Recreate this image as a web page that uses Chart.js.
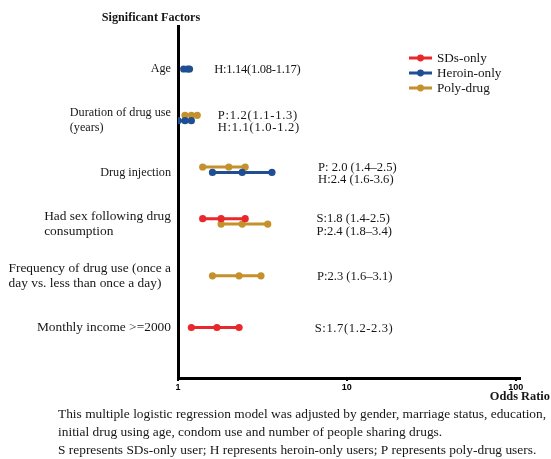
<!DOCTYPE html>
<html>
<head>
<meta charset="utf-8">
<script src="https://cdn.jsdelivr.net/npm/chart.js@4"></script>
<style>
  html, body { margin: 0; padding: 0; background: #fff; }
  #wrap { width: 551px; height: 459px; position: relative; }
</style>
</head>
<body>
<div id="wrap"><canvas id="c" width="551" height="459"></canvas></div>
<script>
// Significant factors (one entry per row, lines of the label)
const factors = [
  ['Age'],
  ['Duration of drug use', '(years)'],
  ['Drug injection'],
  ['Had sex following drug', 'consumption'],
  ['Frequency of drug use (once a', 'day vs. less than once a day)'],
  ['Monthly income >=2000']
];

const seriesNames = ['SDs-only', 'Heroin-only', 'Poly-drug'];
const seriesCodes = ['S', 'H', 'P'];

// Odds ratios with 95% confidence limits; null where the factor is not significant
const sdsOR      = [null, null, null, 1.8, null, 1.7];
const sdsLow     = [null, null, null, 1.4, null, 1.2];
const sdsHigh    = [null, null, null, 2.5, null, 2.3];

const heroinOR   = [1.14, 1.1, 2.4, null, null, null];
const heroinLow  = [1.08, 1.0, 1.6, null, null, null];
const heroinHigh = [1.17, 1.2, 3.6, null, null, null];

const polyOR     = [null, 1.2, 2.0, 2.4, 2.3, null];
const polyLow    = [null, 1.1, 1.4, 1.8, 1.6, null];
const polyHigh   = [null, 1.3, 2.5, 3.4, 3.1, null];

const xTicks = [1, 10, 100];
const yAxisTitle = 'Significant Factors';
const xAxisTitle = 'Odds Ratio';

// Top-to-bottom order of the groups inside each row
const rowOrder = [['H'], ['P', 'H'], ['P', 'H'], ['S', 'P'], ['P'], ['S']];
// Estimate text pattern per row and group, and the number of decimals per row
const estimateText = {
  '0H': 'H:{m}({l}-{u})',
  '1P': 'P:{m}({l}-{u})',  '1H': 'H:{m}({l}-{u})',
  '2P': 'P: {m} ({l}\u2013{u})', '2H': 'H:{m} ({l}-{u})',
  '3S': 'S:{m} ({l}-{u})',  '3P': 'P:{m} ({l}\u2013{u})',
  '4P': 'P:{m} ({l}\u2013{u})',
  '5S': 'S:{m}({l}-{u})'
};
const decimals = [2, 1, 1, 1, 1, 1];

const footnote = [
  'This multiple logistic regression model was adjusted by gender, marriage status, education,',
  'initial drug using age, condom use and number of people sharing drugs.',
  'S represents SDs-only user; H represents heroin-only users; P represents poly-drug users.'
];

// ---- styling ----
const colors = { S: '#e8282b', H: '#1f4f92', P: '#c5912c' };
const labelSizes = [12.2, 12.2, 12.2, 13.4, 13.4, 13.4];
const textAnchorOR = [1.64, 1.72, 6.75, 6.6, 6.65, 6.45];   // where each estimate text starts on the OR axis
const textTracking = [-0.3, 0.7, 0, 0, 0, 0.6];             // letter spacing of the estimate texts per row
const laneShift = -0.105;   // upper CI line of a pair sits slightly above the row
const textStep = 0.24;      // spacing of stacked estimate texts, in row units
const SERIF = '"Liberation Serif", "Times New Roman", serif';

const sources = {
  S: { or: sdsOR, lo: sdsLow, hi: sdsHigh },
  H: { or: heroinOR, lo: heroinLow, hi: heroinHigh },
  P: { or: polyOR, lo: polyLow, hi: polyHigh }
};

function rowY(row, code) {
  const order = rowOrder[row];
  return (order.length > 1 && order[0] === code) ? row + laneShift : row;
}

const datasets = seriesCodes.map((code, si) => {
  const src = sources[code];
  const pts = [];
  src.or.forEach((m, row) => {
    if (m === null) return;
    const yv = rowY(row, code);
    pts.push({ x: src.lo[row], y: yv }, { x: m, y: yv }, { x: src.hi[row], y: yv });
    pts.push({ x: m, y: null });   // break between rows
  });
  return {
    label: seriesNames[si],
    code: code,
    data: pts,
    borderColor: colors[code],
    backgroundColor: colors[code],
    pointBackgroundColor: colors[code],
    pointBorderWidth: 0,
    pointRadius: 3.6,
    borderWidth: 3,
    spanGaps: false,
    tension: 0
  };
});

function fmt(row, code) {
  const src = sources[code], d = decimals[row];
  return estimateText[row + code]
    .replace('{m}', src.or[row].toFixed(d))
    .replace('{l}', src.lo[row].toFixed(d))
    .replace('{u}', src.hi[row].toFixed(d));
}

const textLayer = {
  id: 'textLayer',
  afterDraw(chart) {
    const { ctx, chartArea, scales } = chart;
    const xs = scales.x, ys = scales.y;
    ctx.save();
    ctx.fillStyle = '#161616';
    ctx.textBaseline = 'middle';

    // vertical axis heading
    ctx.font = 'bold 12.2px ' + SERIF;
    ctx.textAlign = 'center';
    ctx.fillText(yAxisTitle, 151, 18);

    // factor labels: block right-aligned to the axis, lines left-aligned
    factors.forEach((lines, i) => {
      ctx.font = labelSizes[i] + 'px ' + SERIF;
      const w = Math.max(...lines.map(l => ctx.measureText(l).width));
      const left = chartArea.left - 7 - w;
      const cy = ys.getPixelForValue(i);
      const lh = 15;
      ctx.textAlign = 'left';
      lines.forEach((l, k) => {
        ctx.fillText(l, left, cy + (k - (lines.length - 1) / 2) * lh);
      });
    });

    // estimate texts
    ctx.font = '12.6px ' + SERIF;
    ctx.textAlign = 'left';
    rowOrder.forEach((order, row) => {
      const px = xs.getPixelForValue(textAnchorOR[row]);
      ctx.letterSpacing = textTracking[row] + 'px';
      order.forEach((code, k) => {
        const yv = row + 0.02 + (k - (order.length - 1) / 2) * textStep;
        ctx.fillText(fmt(row, code), px, ys.getPixelForValue(yv));
      });
    });
    ctx.letterSpacing = '0px';

    // legend
    ctx.font = '13.2px ' + SERIF;
    chart.data.datasets.forEach((ds, i) => {
      const ly = 58 + i * 15;
      ctx.strokeStyle = ds.borderColor;
      ctx.lineWidth = 3;
      ctx.beginPath(); ctx.moveTo(409, ly); ctx.lineTo(432, ly); ctx.stroke();
      ctx.fillStyle = ds.borderColor;
      ctx.beginPath(); ctx.arc(420.5, ly, 3.4, 0, Math.PI * 2); ctx.fill();
      ctx.fillStyle = '#161616';
      ctx.textAlign = 'left';
      ctx.fillText(ds.label, 437, ly + 0.5);
    });

    // horizontal axis title
    ctx.font = 'bold 12.4px ' + SERIF;
    ctx.textAlign = 'right';
    ctx.fillText(xAxisTitle, 550, 397);

    // footnote
    ctx.font = '13.4px ' + SERIF;
    ctx.textAlign = 'left';
    footnote.forEach((l, k) => ctx.fillText(l, 58, 414 + k * 18));
    ctx.restore();
  }
};

new Chart(document.getElementById('c'), {
  type: 'line',
  data: { datasets },
  plugins: [textLayer],
  options: {
    responsive: false,
    animation: false,
    devicePixelRatio: 1,
    layout: { padding: { left: 178, top: 26, right: 31, bottom: 65 } },
    plugins: { legend: { display: false }, tooltip: { enabled: false }, title: { display: false } },
    scales: {
      x: {
        type: 'logarithmic',
        min: 1,
        max: 106,
        afterBuildTicks: s => { s.ticks = xTicks.map(v => ({ value: v })); },
        afterFit: s => { s.height = 16; },
        grid: { display: true, drawOnChartArea: false, drawTicks: true, tickLength: 3, color: '#000', lineWidth: 2 },
        border: { display: true, color: '#000', width: 3 },
        ticks: {
          autoSkip: false, maxRotation: 0, padding: 1, color: '#000',
          font: { family: '"Liberation Sans", Arial, sans-serif', weight: 'bold', size: 9 },
          callback: v => String(v)
        }
      },
      y: {
        type: 'linear',
        reverse: true,
        min: -0.832,
        max: 5.977,
        afterFit: s => { s.width = 0; },
        ticks: { display: false },
        grid: { display: false },
        border: { display: true, color: '#000', width: 3 }
      }
    }
  }
});
</script>
</body>
</html>
